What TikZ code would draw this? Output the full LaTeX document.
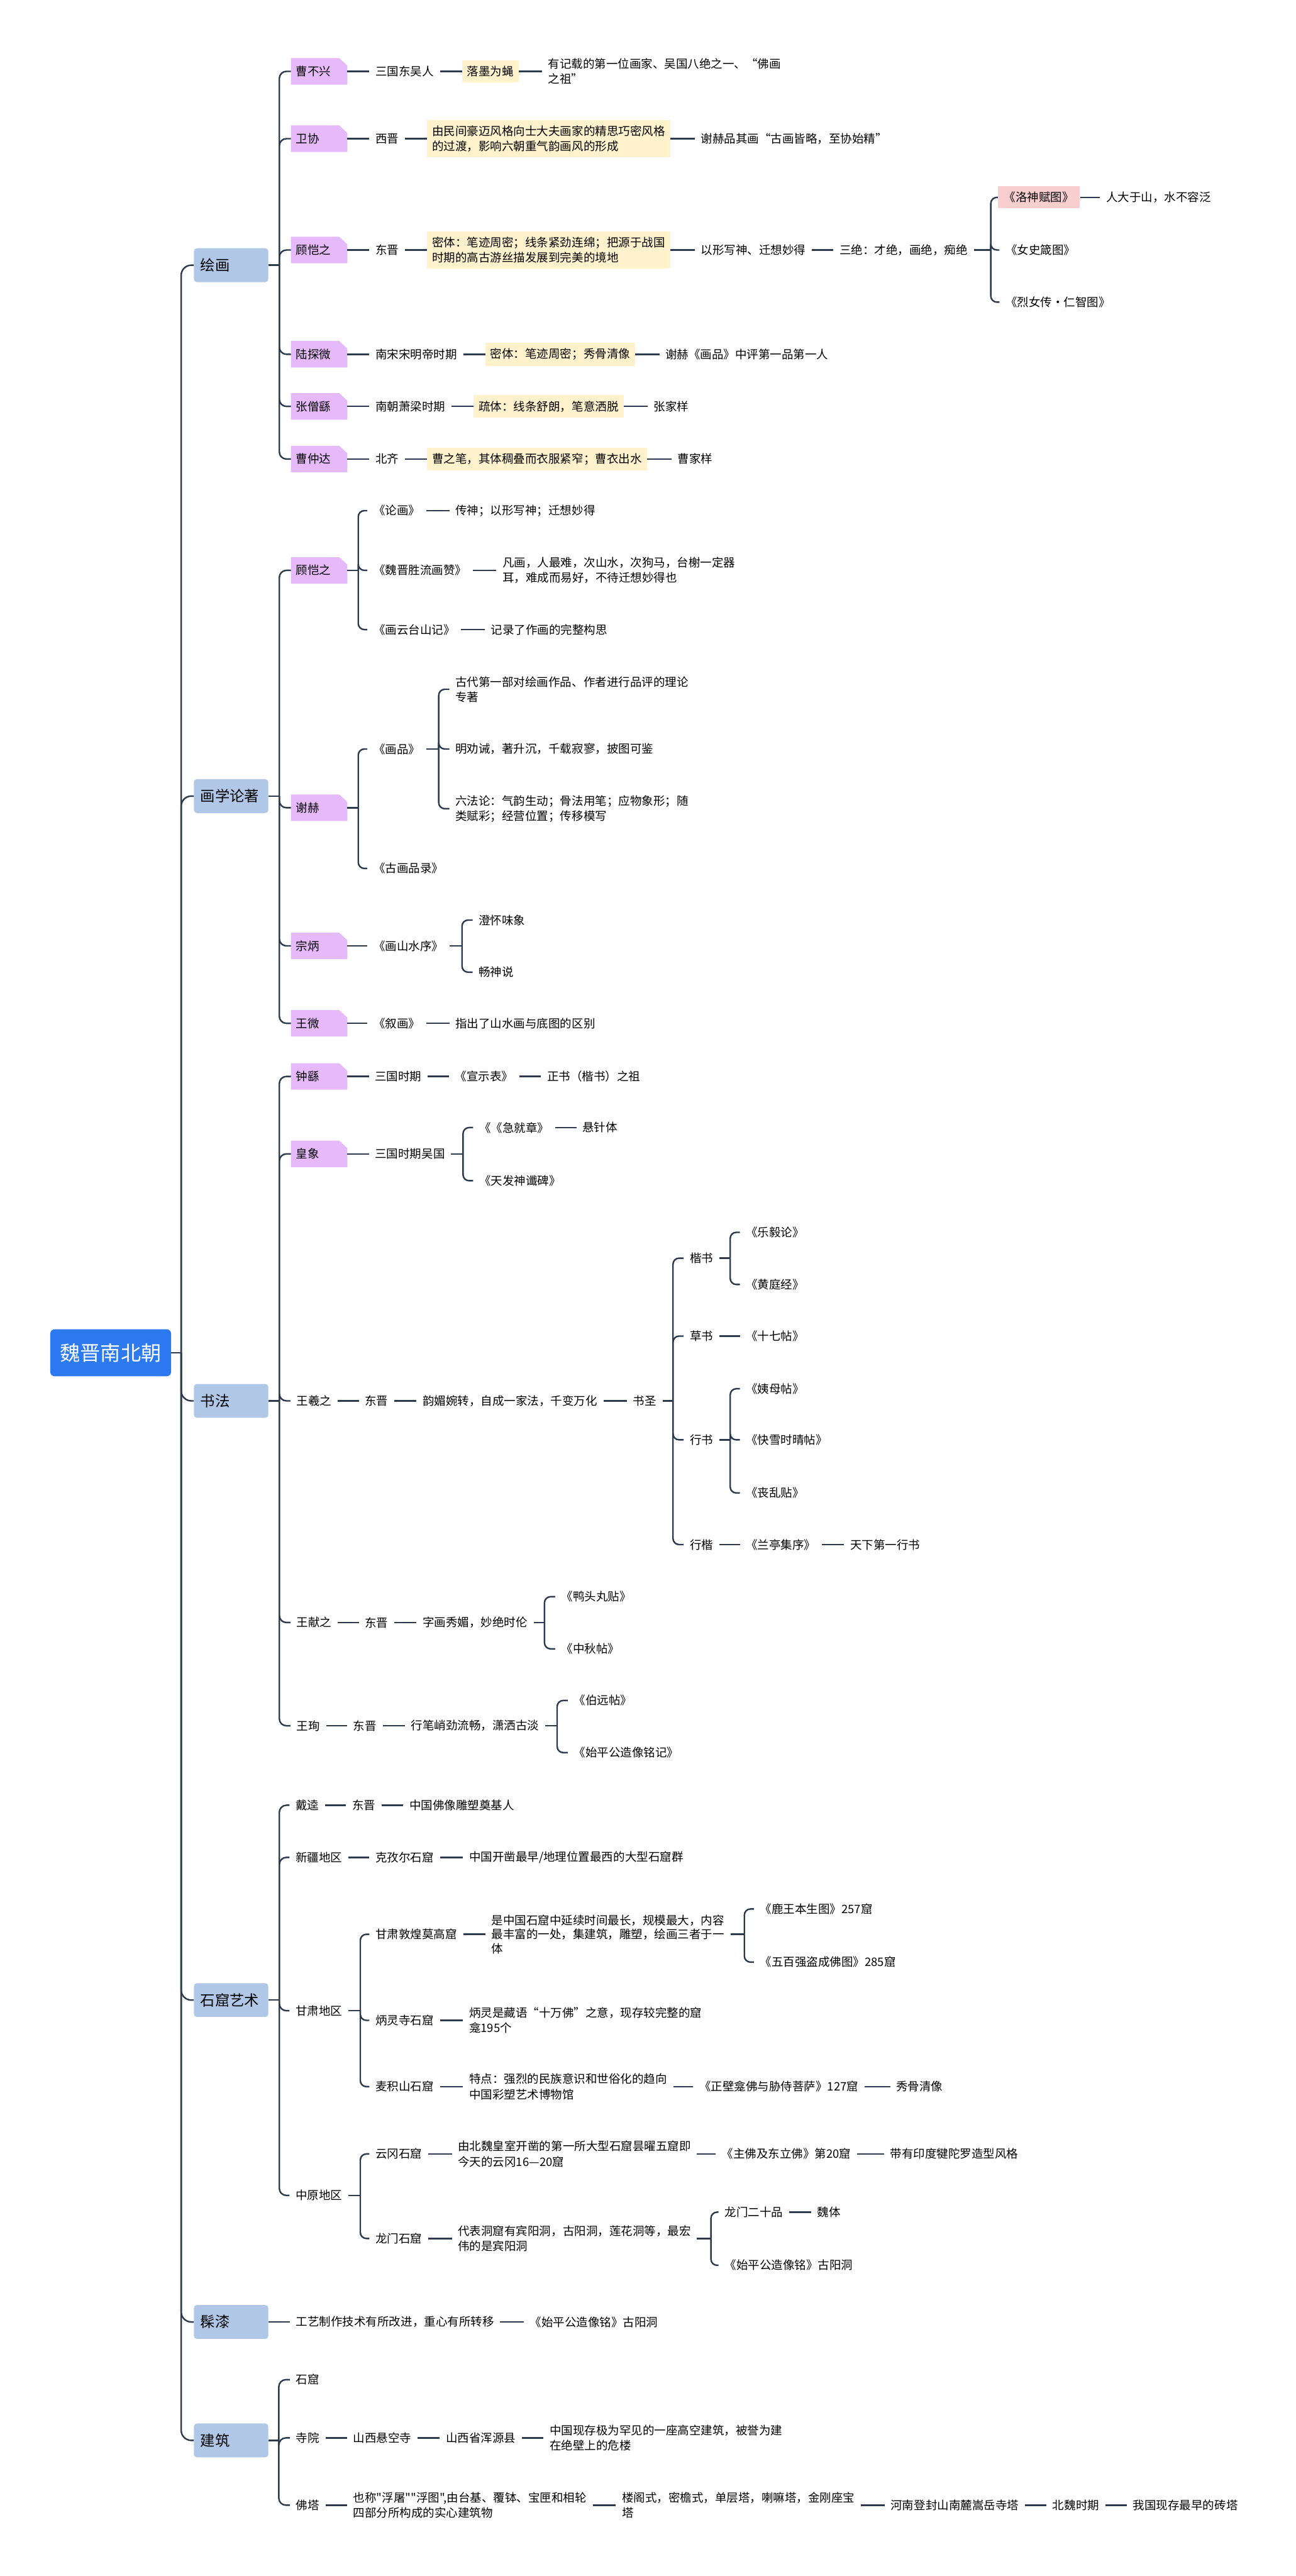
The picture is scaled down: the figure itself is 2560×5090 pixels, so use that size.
\documentclass[tikz,border=0pt]{standalone}
\usepackage{fontspec}
\newfontfamily\cjk{Noto Sans CJK SC}
\usetikzlibrary{calc}
\pgfdeclarelayer{background}
\pgfsetlayers{background,main}
\definecolor{linec}{RGB}{44,58,78}
\definecolor{mainc}{RGB}{176,199,232}
\definecolor{rootc}{RGB}{45,122,240}
\definecolor{purplec}{RGB}{230,185,250}
\definecolor{yellowc}{RGB}{255,242,204}
\definecolor{pinkc}{RGB}{248,206,206}
\tikzset{
  conn/.style={draw=linec, line width=3pt},
  base/.style={font=\cjk\fontsize{23}{30}\selectfont, align=left, anchor=west, inner ysep=6pt},
  txt/.style={base, inner xsep=12pt},
  ybox/.style={base, fill=yellowc, inner xsep=10pt, inner ysep=11pt},
  pkbox/.style={base, fill=pinkc, inner xsep=12pt, inner ysep=11pt},
  pbox/.style={base, inner xsep=10pt, text width=91pt, minimum height=52pt},
  mbox/.style={font=\cjk\fontsize{29}{35}\selectfont, fill=mainc, rounded corners=6pt, anchor=west, align=left, inner xsep=13pt, text width=121pt, minimum height=67pt},
  rbox/.style={font=\cjk\fontsize{40}{48}\selectfont, fill=rootc, text=white, rounded corners=9pt, anchor=west, minimum width=239pt, minimum height=93pt},
}
% purple box with a cut top-right corner
\newcommand\pnode[4]{%
  \node[pbox] (#1) at (#2,#3) {#4};
  \begin{pgfonlayer}{background}
  \fill[purplec] (#1.south west) -- (#1.north west) -- ([xshift=-16pt]#1.north east) -- ([yshift=-15pt]#1.north east) -- (#1.south east) -- cycle;
  \end{pgfonlayer}
}
% \brk[radius]{parent}{x of bracket}{children}
\newcommand\brk[4][12]{%
  \coordinate (bxc) at (#3,0);
  \draw[conn] (#2.east) -- (#2.east -| bxc);
  \foreach \chn in {#4} {\draw[conn, rounded corners=#1pt] (#2.east -| bxc) |- (\chn.west);}
}
\newcommand\lnk[2]{\draw[conn] (#1.east) -- (#2.west);}
\begin{document}
\begin{tikzpicture}[x=1pt,y=-1pt]
\useasboundingbox (0,0) rectangle (2560,5090);

% root and main nodes
\node[rbox] (root) at (99,2673) {魏晋南北朝};
\node[mbox] (m1) at (383,524) {绘画};
\node[mbox] (m2) at (383,1573) {画学论著};
\node[mbox] (m3) at (383,2768) {书法};
\node[mbox] (m4) at (383,3952) {石窟艺术};
\node[mbox] (m5) at (383,4588) {髹漆};
\node[mbox] (m6) at (383,4822) {建筑};
\brk[20]{root}{358}{m1,m2,m3,m4,m5,m6}

% ===== 绘画 =====
\pnode{a1}{575}{141}{曹不兴}
\node[txt] (a1b) at (730,141) {三国东吴人};
\node[ybox] (a1c) at (913,141) {落墨为蝇};
\node[txt] (a1d) at (1071,141) {有记载的第一位画家、吴国八绝之一、“佛画\\之祖”};
\lnk{a1}{a1b}\lnk{a1b}{a1c}\lnk{a1c}{a1d}

\pnode{a2}{575}{274}{卫协}
\node[txt] (a2b) at (730,274) {西晋};
\node[ybox] (a2c) at (844,274) {由民间豪迈风格向士大夫画家的精思巧密风格\\的过渡，影响六朝重气韵画风的形成};
\node[txt] (a2d) at (1373,274) {谢赫品其画“古画皆略，至协始精”};
\lnk{a2}{a2b}\lnk{a2b}{a2c}\lnk{a2c}{a2d}

\pnode{a3}{575}{494}{顾恺之}
\node[txt] (a3b) at (730,494) {东晋};
\node[ybox] (a3c) at (844,494) {密体：笔迹周密；线条紧劲连绵；把源于战国\\时期的高古游丝描发展到完美的境地};
\node[txt] (a3d) at (1373,494) {以形写神、迁想妙得};
\node[txt] (a3e) at (1647,494) {三绝：才绝，画绝，痴绝};
\node[pkbox] (a3f) at (1972,390) {《洛神赋图》};
\node[txt] (a3g) at (2174,390) {人大于山，水不容泛};
\node[txt] (a3h) at (1975,494) {《女史箴图》};
\node[txt] (a3i) at (1975,597) {《烈女传·仁智图》};
\lnk{a3}{a3b}\lnk{a3b}{a3c}\lnk{a3c}{a3d}\lnk{a3d}{a3e}\lnk{a3f}{a3g}
\brk{a3e}{1958}{a3f,a3h,a3i}

\pnode{a4}{575}{700}{陆探微}
\node[txt] (a4b) at (730,700) {南宋宋明帝时期};
\node[ybox] (a4c) at (959,700) {密体：笔迹周密；秀骨清像};
\node[txt] (a4d) at (1303,700) {谢赫《画品》中评第一品第一人};
\lnk{a4}{a4b}\lnk{a4b}{a4c}\lnk{a4c}{a4d}

\pnode{a5}{575}{803}{张僧繇}
\node[txt] (a5b) at (730,803) {南朝萧梁时期};
\node[ybox] (a5c) at (936,803) {疏体：线条舒朗，笔意洒脱};
\node[txt] (a5d) at (1280,803) {张家样};
\lnk{a5}{a5b}\lnk{a5b}{a5c}\lnk{a5c}{a5d}

\pnode{a6}{575}{907}{曹仲达}
\node[txt] (a6b) at (730,907) {北齐};
\node[ybox] (a6c) at (844,907) {曹之笔，其体稠叠而衣服紧窄；曹衣出水};
\node[txt] (a6d) at (1327,907) {曹家样};
\lnk{a6}{a6b}\lnk{a6b}{a6c}\lnk{a6c}{a6d}

\brk[14]{m1}{552}{a1,a2,a3,a4,a5,a6}

% ===== 画学论著 =====
\pnode{b1}{575}{1127}{顾恺之}
\node[txt] (b1a) at (726,1009) {《论画》};
\node[txt] (b1a2) at (888,1009) {传神；以形写神；迁想妙得};
\node[txt] (b1b) at (726,1127) {《魏晋胜流画赞》};
\node[txt] (b1b2) at (981,1127) {凡画，人最难，次山水，次狗马，台榭一定器\\耳，难成而易好，不待迁想妙得也};
\node[txt] (b1c) at (726,1244) {《画云台山记》};
\node[txt] (b1c2) at (958,1244) {记录了作画的完整构思};
\lnk{b1a}{b1a2}\lnk{b1b}{b1b2}\lnk{b1c}{b1c2}
\brk{b1}{708}{b1a,b1b,b1c}

\pnode{b2}{575}{1596}{谢赫}
\node[txt] (b2a) at (726,1480) {《画品》};
\node[txt] (b2a1) at (888,1362) {古代第一部对绘画作品、作者进行品评的理论\\专著};
\node[txt] (b2a2) at (888,1480) {明劝诫，著升沉，千载寂寥，披图可鉴};
\node[txt] (b2a3) at (888,1598) {六法论：气韵生动；骨法用笔；应物象形；随\\类赋彩；经营位置；传移模写};
\node[txt] (b2b) at (726,1716) {《古画品录》};
\brk{b2a}{867}{b2a1,b2a2,b2a3}
\brk{b2}{708}{b2a,b2b}

\pnode{b3}{575}{1869}{宗炳}
\node[txt] (b3a) at (726,1869) {《画山水序》};
\node[txt] (b3a1) at (934,1818) {澄怀味象};
\node[txt] (b3a2) at (934,1921) {畅神说};
\lnk{b3}{b3a}
\brk{b3a}{913}{b3a1,b3a2}

\pnode{b4}{575}{2022}{王微}
\node[txt] (b4a) at (726,2022) {《叙画》};
\node[txt] (b4a2) at (888,2022) {指出了山水画与底图的区别};
\lnk{b4}{b4a}\lnk{b4a}{b4a2}

\brk[14]{m2}{552}{b1,b2,b3,b4}

% ===== 书法 =====
\pnode{c1}{575}{2127}{钟繇}
\node[txt] (c1b) at (729,2127) {三国时期};
\node[txt] (c1c) at (887,2127) {《宣示表》};
\node[txt] (c1d) at (1069,2127) {正书（楷书）之祖};
\lnk{c1}{c1b}\lnk{c1b}{c1c}\lnk{c1c}{c1d}

\pnode{c2}{575}{2280}{皇象}
\node[txt] (c2b) at (729,2280) {三国时期吴国};
\node[txt] (c2c) at (935,2228) {《《急就章》};
\node[txt] (c2c2) at (1139,2228) {悬针体};
\node[txt] (c2d) at (935,2333) {《天发神谶碑》};
\lnk{c2}{c2b}\lnk{c2c}{c2c2}
\brk{c2b}{915}{c2c,c2d}

\node[txt] (c3) at (574,2768) {王羲之};
\node[txt] (c3b) at (709,2768) {东晋};
\node[txt] (c3c) at (823,2768) {韵媚婉转，自成一家法，千变万化};
\node[txt] (c3d) at (1239,2768) {书圣};
\lnk{c3}{c3b}\lnk{c3b}{c3c}\lnk{c3c}{c3d}
\node[txt] (k1) at (1351,2486) {楷书};
\node[txt] (k1a) at (1462,2435) {《乐毅论》};
\node[txt] (k1b) at (1462,2538) {《黄庭经》};
\node[txt] (k2) at (1351,2640) {草书};
\node[txt] (k2a) at (1462,2640) {《十七帖》};
\node[txt] (k3) at (1351,2845) {行书};
\node[txt] (k3a) at (1462,2744) {《姨母帖》};
\node[txt] (k3b) at (1462,2845) {《快雪时晴帖》};
\node[txt] (k3c) at (1462,2950) {《丧乱贴》};
\node[txt] (k4) at (1351,3052) {行楷};
\node[txt] (k4a) at (1462,3052) {《兰亭集序》};
\node[txt] (k4b) at (1668,3052) {天下第一行书};
\brk{c3d}{1330}{k1,k2,k3,k4}
\brk{k1}{1443}{k1a,k1b}
\lnk{k2}{k2a}
\brk{k3}{1443}{k3a,k3b,k3c}
\lnk{k4}{k4a}\lnk{k4a}{k4b}

\node[txt] (c4) at (574,3206) {王献之};
\node[txt] (c4b) at (709,3206) {东晋};
\node[txt] (c4c) at (823,3206) {字画秀媚，妙绝时伦};
\node[txt] (c4d) at (1097,3155) {《鸭头丸贴》};
\node[txt] (c4e) at (1097,3258) {《中秋帖》};
\lnk{c4}{c4b}\lnk{c4b}{c4c}
\brk{c4c}{1076}{c4d,c4e}

\node[txt] (c5) at (574,3410) {王珣};
\node[txt] (c5b) at (686,3410) {东晋};
\node[txt] (c5c) at (800,3410) {行笔峭劲流畅，潇洒古淡};
\node[txt] (c5d) at (1122,3360) {《伯远帖》};
\node[txt] (c5e) at (1122,3463) {《始平公造像铭记》};
\lnk{c5}{c5b}\lnk{c5b}{c5c}
\brk{c5c}{1101}{c5d,c5e}

\brk[14]{m3}{552}{c1,c2,c3,c4,c5}

% ===== 石窟艺术 =====
\node[txt] (d1) at (572,3567) {戴逵};
\node[txt] (d1b) at (684,3567) {东晋};
\node[txt] (d1c) at (797,3567) {中国佛像雕塑奠基人};
\lnk{d1}{d1b}\lnk{d1b}{d1c}

\node[txt] (d2) at (572,3670) {新疆地区};
\node[txt] (d2b) at (730,3670) {克孜尔石窟};
\node[txt] (d2c) at (915,3670) {中国开凿最早/地理位置最西的大型石窟群};
\lnk{d2}{d2b}\lnk{d2b}{d2c}

\node[txt] (d3) at (572,3973) {甘肃地区};
\node[txt] (g1) at (730,3822) {甘肃敦煌莫高窟};
\node[txt, font=\cjk\fontsize{23}{28}\selectfont] (g1b) at (959,3822) {是中国石窟中延续时间最长，规模最大，内容\\最丰富的一处，集建筑，雕塑，绘画三者于一\\体};
\node[txt] (g1c) at (1490,3772) {《鹿王本生图》257窟};
\node[txt] (g1d) at (1490,3877) {《五百强盗成佛图》285窟};
\lnk{g1}{g1b}
\brk{g1b}{1471}{g1c,g1d}
\node[txt] (g2) at (730,3992) {炳灵寺石窟};
\node[txt] (g2b) at (915,3992) {炳灵是藏语“十万佛”之意，现存较完整的窟\\龛195个};
\lnk{g2}{g2b}
\node[txt] (g3) at (730,4123) {麦积山石窟};
\node[txt] (g3b) at (915,4123) {特点：强烈的民族意识和世俗化的趋向\\中国彩塑艺术博物馆};
\node[txt] (g3c) at (1370,4123) {《正壁龛佛与胁侍菩萨》127窟};
\node[txt] (g3d) at (1759,4123) {秀骨清像};
\lnk{g3}{g3b}\lnk{g3b}{g3c}\lnk{g3c}{g3d}
\brk{d3}{712}{g1,g2,g3}

\node[txt] (d4) at (572,4338) {中原地区};
\node[txt] (h1) at (730,4256) {云冈石窟};
\node[txt] (h1b) at (893,4256) {由北魏皇室开凿的第一所大型石窟昙曜五窟即\\今天的云冈16—20窟};
\node[txt] (h1c) at (1414,4256) {《主佛及东立佛》第20窟};
\node[txt] (h1d) at (1747,4256) {带有印度犍陀罗造型风格};
\lnk{h1}{h1b}\lnk{h1b}{h1c}\lnk{h1c}{h1d}
\node[txt] (h2) at (730,4423) {龙门石窟};
\node[txt] (h2b) at (893,4423) {代表洞窟有宾阳洞，古阳洞，莲花洞等，最宏\\伟的是宾阳洞};
\node[txt] (h2c) at (1420,4371) {龙门二十品};
\node[txt] (h2c2) at (1603,4371) {魏体};
\node[txt] (h2d) at (1420,4476) {《始平公造像铭》古阳洞};
\lnk{h2}{h2b}\lnk{h2c}{h2c2}
\brk{h2b}{1405}{h2c,h2d}
\brk{d4}{712}{h1,h2}

\brk[14]{m4}{552}{d1,d2,d3,d4}

% ===== 髹漆 =====
\node[txt] (e1) at (573,4588) {工艺制作技术有所改进，重心有所转移};
\node[txt] (e2) at (1035,4588) {《始平公造像铭》古阳洞};
\lnk{m5}{e1}\lnk{e1}{e2}

% ===== 建筑 =====
\node[txt] (f1) at (573,4702) {石窟};
\node[txt] (f2) at (573,4817) {寺院};
\node[txt] (f2b) at (686,4817) {山西悬空寺};
\node[txt] (f2c) at (869,4817) {山西省浑源县};
\node[txt] (f2d) at (1074,4817) {中国现存极为罕见的一座高空建筑，被誉为建\\在绝壁上的危楼};
\lnk{f2}{f2b}\lnk{f2b}{f2c}\lnk{f2c}{f2d}
\node[txt] (f3) at (573,4950) {佛塔};
\node[txt] (f3b) at (686,4950) {也称"浮屠""浮图",由台基、覆钵、宝匣和相轮\\四部分所构成的实心建筑物};
\node[txt] (f3c) at (1217,4950) {楼阁式，密檐式，单层塔，喇嘛塔，金刚座宝\\塔};
\node[txt] (f3d) at (1748,4950) {河南登封山南麓嵩岳寺塔};
\node[txt] (f3e) at (2068,4950) {北魏时期};
\node[txt] (f3f) at (2227,4950) {我国现存最早的砖塔};
\lnk{f3}{f3b}\lnk{f3b}{f3c}\lnk{f3c}{f3d}\lnk{f3d}{f3e}\lnk{f3e}{f3f}
\brk[14]{m6}{551}{f1,f2,f3}

\end{tikzpicture}
\end{document}
